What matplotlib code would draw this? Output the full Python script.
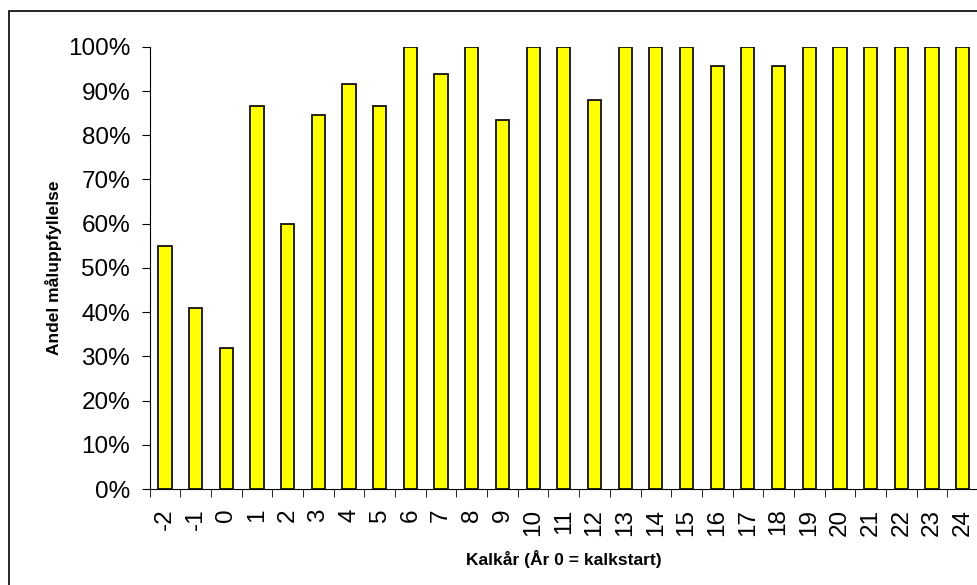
import numpy as np
import matplotlib.pyplot as plt
from matplotlib.patches import Rectangle
from matplotlib.ticker import PercentFormatter

plt.rcParams['font.family'] = ['Liberation Sans', 'DejaVu Sans']

years = list(range(-2, 25))
share = [55, 41, 32, 86.6, 60, 84.5, 91.7, 86.6, 100, 93.8, 100, 83.4, 100, 100,
         88, 100, 100, 100, 95.6, 100, 95.6, 100, 100, 100, 100, 100, 100]

fig = plt.figure(figsize=(9.78, 5.85), dpi=100)
ax = fig.add_axes([0.153, 0.164, 0.847, 0.756])

x = np.arange(len(years))
ax.bar(x, share, width=0.43, color='#ffff00', edgecolor='#111111', linewidth=1.3)

ax.set_xlim(-0.5, len(years) - 0.5)
ax.set_ylim(0, 100)
ax.set_yticks(np.arange(0, 101, 10))
ax.yaxis.set_major_formatter(PercentFormatter(decimals=0))
ax.set_xticks(x)
ax.set_xticklabels([str(y) for y in years], rotation=90)
ax.set_xticks(np.arange(-0.5, len(years), 1), minor=True)
ax.tick_params(axis='x', which='major', length=0, labelsize=17.5, pad=14)
ax.tick_params(axis='x', which='minor', length=6, direction='out')
ax.tick_params(axis='y', labelsize=17.5, length=6, direction='out', pad=8)

for s in ['top', 'right']:
    ax.spines[s].set_visible(False)

ax.set_xlabel('Kalkår (År 0 = kalkstart)', fontsize=12.5, fontweight='bold', labelpad=10)
ax.set_ylabel('Andel måluppfyllelse', fontsize=12.5, fontweight='bold', labelpad=4)

fig.patches.append(Rectangle((0.009, -0.01), 1.1, 0.992, transform=fig.transFigure,
                             fill=False, edgecolor='black', linewidth=1.2))

plt.savefig('out.png')
